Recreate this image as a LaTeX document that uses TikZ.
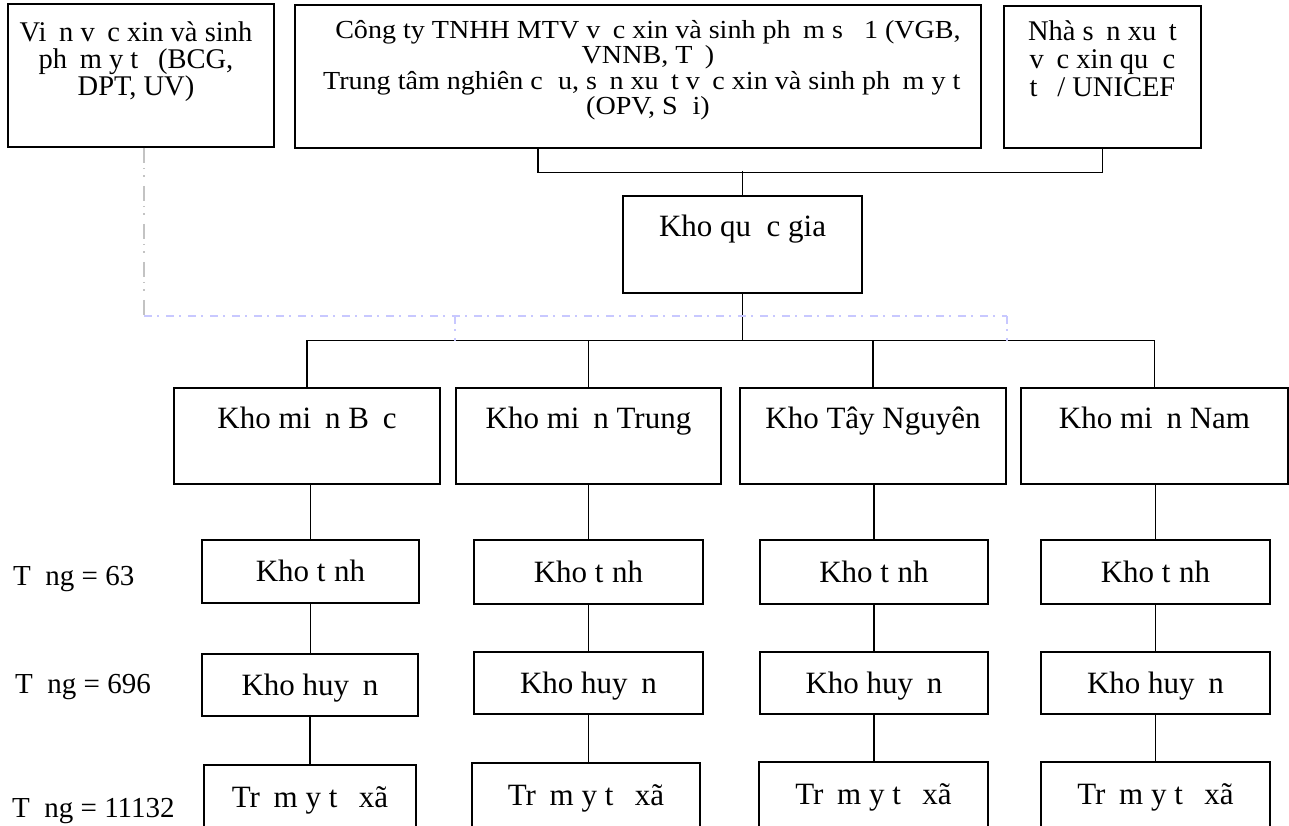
\documentclass[tikz,border=0pt]{standalone}
\usepackage{fontspec}
\setmainfont{Liberation Serif}
\newfontfamily\etire{Liberation Serif}[FakeStretch=1.08]
\newcommand{\miss}[1]{\hphantom{#1}}
\newcommand{\petit}[1]{\fontsize{28.5}{#1}\selectfont\lineskiplimit=-30pt\relax}
\newcommand{\serre}{\etire\fontsize{26}{25.5}\selectfont\lineskiplimit=-30pt\relax}
\newcommand{\moyen}{\fontsize{29}{32}\selectfont}
\newcommand{\grand}{\fontsize{31}{34}\selectfont}
\definecolor{gristrait}{RGB}{195,195,195}
\definecolor{bleutrait}{RGB}{200,200,255}

\begin{document}
\begin{tikzpicture}[x=1pt,y=1pt,
  boite/.style={draw, line width=1.5pt, inner sep=0pt},
  texte/.style={align=center, inner sep=0pt, anchor=base, font=\petit{27}},
  case/.style={boite, font=\grand, text height=20pt, text depth=0pt},
  trait/.style={line width=1.1pt},
  gris/.style={gristrait, line width=1.1pt,
    dash pattern=on 15pt off 5pt on 1.5pt off 6pt on 1.5pt off 9pt},
  bleu/.style={bleutrait, line width=1.1pt,
    dash pattern=on 8pt off 5pt on 2pt off 7pt}]

\useasboundingbox (0,0) rectangle (1289,-825);

% Boites du haut (texte pose sur la base de la derniere ligne)
\node[boite, minimum width=266, minimum height=143] (vien) at (141,-75.5) {};
\node[texte] (tvien) at ([xshift=-5,yshift=-92]vien.north)
  {Vi\miss{ệ}n v\miss{ắ}c xin và sinh\\ ph\miss{ẩ}m y t\miss{ế} (BCG,\\ DPT, UV)};
\node[boite, minimum width=686, minimum height=143] (congty) at (638,-76.5) {};
\node[texte, font=\serre] (tcongty) at ([xshift=10,yshift=-110.5]congty.north)
  {Công ty TNHH MTV v\miss{ắ}c xin và sinh ph\miss{ẩ}m s\miss{ố} 1 (VGB,\\
   VNNB, T\miss{ả})\\
   Trung tâm nghiên c\miss{ứ}u, s\miss{ả}n xu\miss{ấ}t v\miss{ắ}c xin và sinh ph\miss{ẩ}m y t\miss{ế}\\
   (OPV, S\miss{ở}i)};
\node[boite, minimum width=197, minimum height=142] (nsx) at (1102.5,-77) {};
\node[texte, font=\petit{28}] (tnsx) at ([yshift=-91]nsx.north)
  {Nhà s\miss{ả}n xu\miss{ấ}t\\ v\miss{ắ}c xin qu\miss{ố}c\\ t\miss{ế} / UNICEF};

% Kho quoc gia
\node[boite, minimum width=239, minimum height=97] (qg) at (742.5,-244.5) {};
\node[texte, font=\grand] (tqg) at ([yshift=-41]qg.north) {Kho qu\miss{ố}c gia};

% Kho mien
\node[boite, minimum width=266, minimum height=96] (bac) at (307,-436) {};
\node[boite, minimum width=265, minimum height=96] (trung) at (588.5,-436) {};
\node[boite, minimum width=266, minimum height=96] (tay) at (873,-436) {};
\node[boite, minimum width=267, minimum height=96] (nam) at (1154.5,-436) {};
\node[texte, font=\grand] (tbac) at ([yshift=-41]bac.north) {Kho mi\miss{ề}n B\miss{ắ}c};
\node[texte, font=\grand] (ttrung) at ([yshift=-41]trung.north) {Kho mi\miss{ề}n Trung};
\node[texte, font=\grand] (ttay) at ([yshift=-41]tay.north) {Kho Tây Nguyên};
\node[texte, font=\grand] (tnam) at ([yshift=-41]nam.north) {Kho mi\miss{ề}n Nam};

% Kho tinh
\node[case, minimum width=217, minimum height=63] (tinh1) at (310.5,-571.5) {Kho t\miss{ỉ}nh};
\node[case, minimum width=229, minimum height=64] (tinh2) at (588.5,-572) {Kho t\miss{ỉ}nh};
\node[case, minimum width=228, minimum height=64] (tinh3) at (874,-572) {Kho t\miss{ỉ}nh};
\node[case, minimum width=229, minimum height=64] (tinh4) at (1155.5,-572) {Kho t\miss{ỉ}nh};
% Kho huyen
\node[case, minimum width=216, minimum height=62] (huyen1) at (310,-685) {Kho huy\miss{ệ}n};
\node[case, minimum width=229, minimum height=62] (huyen2) at (588.5,-683) {Kho huy\miss{ệ}n};
\node[case, minimum width=228, minimum height=62] (huyen3) at (874,-683) {Kho huy\miss{ệ}n};
\node[case, minimum width=229, minimum height=62] (huyen4) at (1155.5,-683) {Kho huy\miss{ệ}n};
% Tram y te
\node[case, minimum width=212, minimum height=64] (tram1) at (310,-797) {Tr\miss{ạ}m y t\miss{ế} xã};
\node[case, minimum width=228, minimum height=64] (tram2) at (586,-795) {Tr\miss{ạ}m y t\miss{ế} xã};
\node[case, minimum width=229, minimum height=65] (tram3) at (873.5,-794.5) {Tr\miss{ạ}m y t\miss{ế} xã};
\node[case, minimum width=229, minimum height=65] (tram4) at (1155.5,-794.5) {Tr\miss{ạ}m y t\miss{ế} xã};

% Totaux
\node[anchor=base west, inner sep=0pt, font=\moyen] (tong1) at (13,-585) {T\miss{ổ}ng = 63};
\node[anchor=base west, inner sep=0pt, font=\moyen] (tong2) at (15,-693) {T\miss{ổ}ng = 696};
\node[anchor=base west, inner sep=0pt, font=\moyen] (tong3) at (12,-817) {T\miss{ổ}ng = 11132};

% Liaisons du haut
\draw[trait] ([xshift=-100]congty.south) -- ++(0,-24) -| (nsx.south);
\draw[trait] (qg.north) -- ++(0,24);
\draw[trait] (qg.south) -- ++(0,-47) coordinate (bus);
\draw[trait] (bac.north) -- (bac.north |- bus) -- (nam.north |- bus) -- (nam.north);
\draw[trait] (trung.north) -- (trung.north |- bus);
\draw[trait] (tay.north) -- (tay.north |- bus);

% Pointilles
\coordinate (pointille) at (144,-316);
\coordinate (milieu) at (455,-316);
\coordinate (finbleu) at (1007,-316);
\draw[gris] ([xshift=3]vien.south) -- (pointille);
\draw[bleu] (pointille) -- (finbleu);
\draw[bleu] (milieu) -- (milieu |- bus);
\draw[bleu] (finbleu) -- (finbleu |- bus);

% Colonnes
\foreach \i/\r in {1/bac,2/trung,3/tay,4/nam}{
  \draw[trait] (tinh\i.north) -- (tinh\i.north |- \r.south);
  \draw[trait] (tinh\i.south) -- (tinh\i.south |- huyen\i.north);
  \draw[trait] (huyen\i.south) -- (huyen\i.south |- tram\i.north);
}
\end{tikzpicture}
\end{document}
